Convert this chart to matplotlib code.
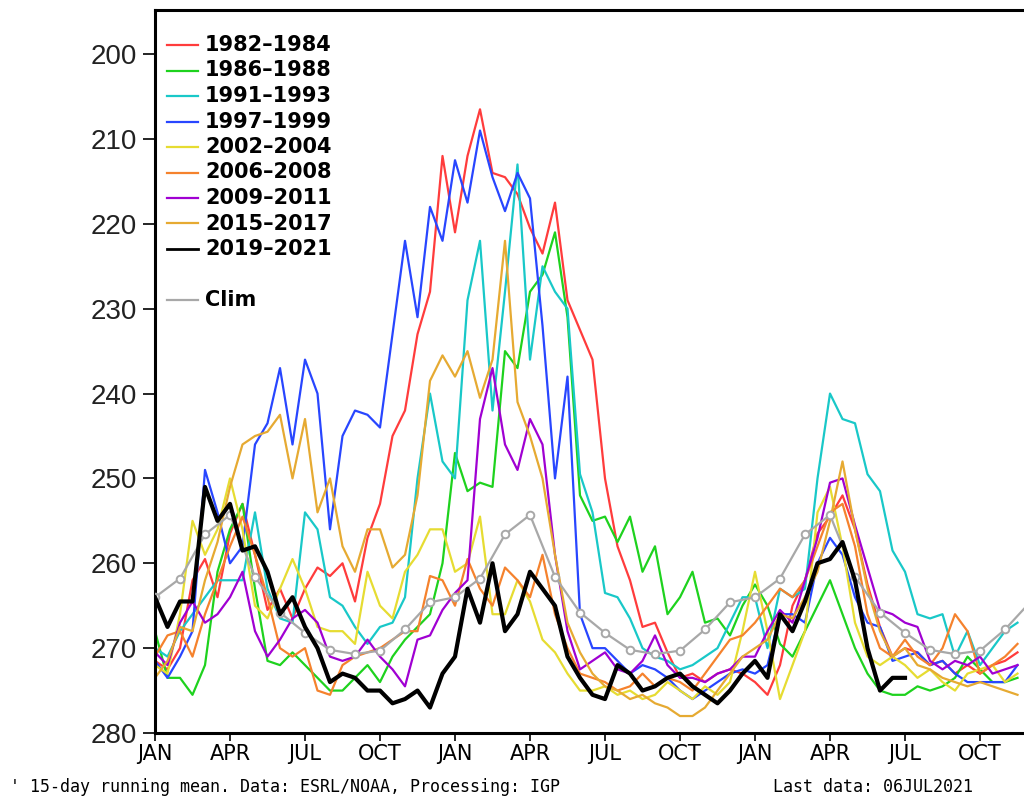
import numpy as np
import matplotlib
matplotlib.use("Agg")
import matplotlib.pyplot as plt

# OLR values, one value every half month from JAN of year 1
red_1982 = [271.5, 272.5, 270, 262, 259.5, 264, 256.5, 253, 259, 265.5, 263, 266.5, 263, 260.5, 261.5, 260,
            264.5, 257, 253, 245, 242, 233, 228, 212, 221, 212, 206.5, 214, 214.5, 216.5, 220.5, 223.5,
            217.5, 229, 232.5, 236, 250, 258, 262, 267.5, 267, 270.5, 273.5, 273, 274, 273, 272.5, 273,
            274, 275.5, 272, 265, 262, 256.5, 254.5, 252, 256, 262.5, 267.5, 271, 270, 270.5, 272, 271.5,
            273, 272, 273, 272, 271.5, 270.5]
green_1986 = [268, 273.5, 273.5, 275.5, 272, 261, 256, 253, 263, 271.5, 272, 270.5, 272, 273.5, 275, 275,
              273.5, 272, 274, 271, 269, 267.5, 266, 260, 247, 251.5, 250.5, 251, 235, 237, 228, 226,
              221, 231, 252, 255, 254.5, 257.5, 254.5, 261, 258, 266, 264, 261, 267, 266.5, 268.5, 265,
              262.5, 265, 269.5, 271, 268, 265, 262, 266, 270, 273, 275, 275.5, 275.5, 274.5, 275, 274.5,
              273.5, 271, 272.5, 274, 274, 273.5]
cyan_1991 = [270, 271, 268, 266, 264, 262, 262, 262, 254, 263, 266.5, 267, 254, 256, 264, 265,
             267.5, 269.5, 267.5, 267, 264, 250, 240, 248, 250, 229, 222, 242, 228, 213, 236, 225,
             228, 230, 249.5, 254, 263.5, 264, 266.5, 270, 271, 271.5, 272.5, 272, 271, 270, 267, 264,
             264, 270, 263, 264, 263, 250, 240, 243, 243.5, 249.5, 251.5, 258.5, 261, 266, 266.5, 266,
             271, 268, 272, 270, 268, 267]
blue_1997 = [271.5, 273.5, 271, 268, 249, 254, 260, 258, 246, 243.5, 237, 246, 236, 240, 256, 245,
             242, 242.5, 244, 233, 222, 231, 218, 222, 212.5, 217.5, 209, 214.5, 218.5, 214, 217, 232,
             250, 238, 266, 270, 270, 271.5, 273, 272, 272.5, 273.5, 275, 276, 275, 274, 273, 272.5,
             273, 272, 266, 266, 267, 260, 257, 259, 264, 267, 267.5, 271.5, 271, 270.5, 272, 271.5,
             273, 274, 274, 274, 274, 272]
yellow_2002 = [272, 273, 266, 255, 259, 256, 250, 256, 265, 266.5, 263, 259.5, 263, 267.5, 268, 268,
               269.5, 261, 265, 266.5, 261, 259, 256, 256, 261, 260, 254.5, 266, 266, 262, 264.5, 269,
               270.5, 273, 275, 275, 274.5, 275.5, 275, 276, 275.5, 274, 275, 276, 274.5, 275.5, 274, 268,
               261, 268, 276, 272, 268, 254, 251, 258, 267, 271, 272, 271, 272, 273.5, 272.5, 274,
               275, 273, 272.5, 272, 274, 273]
orange_2006 = [271, 268.5, 268, 271, 266, 262, 258, 254.5, 259, 264, 270, 271, 270, 275, 275.5, 272,
               271, 270.5, 270, 269, 268, 268, 261.5, 262, 265, 259.5, 263, 265, 260.5, 262, 264, 259,
               266, 270, 273, 273.5, 274, 275, 274.5, 273, 274.5, 273.5, 274, 275, 273, 271, 269, 268.5,
               267, 265, 263, 264, 262, 258, 254, 253, 258, 266, 270, 271, 269, 271, 272, 270,
               266, 268, 273, 272, 271, 269.5]
purple_2009 = [270.5, 272, 267, 264.5, 267, 266, 264, 261, 268, 271, 269, 266.5, 265.5, 267, 271, 271.5,
               271, 269, 271, 272.5, 274.5, 269, 268.5, 265.5, 263.5, 262, 243, 237, 246, 249, 243, 246,
               259, 268, 272.5, 271.5, 270.5, 272.5, 273, 271.5, 268.5, 272, 273.5, 273.5, 274, 273, 272.5, 271,
               271, 268, 265.5, 267, 262, 257, 250.5, 250, 255.5, 260.5, 265.5, 266, 267, 267.5, 271.5, 272.5,
               271.5, 272, 271, 273, 272.5, 272]
gold_2015 = [273.5, 271.5, 267.5, 268, 262, 257.5, 251, 246, 245, 244.5, 242.5, 250, 243, 254, 250, 258,
             261, 256, 256, 260.5, 259, 252, 238.5, 235.5, 238, 235, 240.5, 236, 222, 241, 245, 250,
             259, 267, 270.5, 273, 274.5, 275, 276, 275.5, 276.5, 277, 278, 278, 277, 275, 273, 271,
             270, 269, 266, 266.5, 264, 261, 255, 248, 256, 263, 268, 271, 270, 272, 272.5, 273.5,
             274, 274.5, 274, 274.5, 275, 275.5]
black_2019 = [264, 267.5, 264.5, 264.5, 251, 255, 253, 258.5, 258, 261, 266, 264, 267.5, 270, 274, 273,
              273.5, 275, 275, 276.5, 276, 275, 277, 273, 271, 263, 267, 260, 268, 266, 261, 263,
              265, 271, 273.5, 275.5, 276, 272, 273, 275, 274.5, 273.5, 273, 274.5, 275.5, 276.5, 275, 273,
              271.5, 273.5, 266, 268, 264.5, 260, 259.5, 257.5, 262, 270, 275, 273.5, 273.5]

# climatology, one value per month
clim = [264.0, 261.8, 256.6, 254.3, 261.6, 265.8, 268.2, 270.2, 270.7, 270.3, 267.8, 264.6,
        264.0, 261.8, 256.6, 254.3, 261.6, 265.8, 268.2, 270.2, 270.7, 270.3, 267.8, 264.6,
        264.0, 261.8, 256.6, 254.3, 261.6, 265.8, 268.2, 270.2, 270.7, 270.3, 267.8, 264.6]

labels = ["1982–1984", "1986–1988", "1991–1993", "1997–1999", "2002–2004",
          "2006–2008", "2009–2011", "2015–2017", "2019–2021"]
colors = ["#ff3c3c", "#1ed21e", "#19c8c8", "#2846ff", "#e6dc32",
          "#f5822d", "#a000d2", "#e6aa32", "black"]
series = [red_1982, green_1986, cyan_1991, blue_1997, yellow_2002,
          orange_2006, purple_2009, gold_2015, black_2019]

month_ticks = [0, 3, 6, 9, 12, 15, 18, 21, 24, 27, 30, 33]
month_names = ["JAN", "APR", "JUL", "OCT"] * 3

fig = plt.figure(figsize=(10.24, 7.96), dpi=100)
ax = fig.add_axes([155 / 1024, 63 / 796, 900 / 1024, 723 / 796])

for vals, col in zip(series[:-1], colors[:-1]):
    x = np.arange(len(vals)) * 0.5
    ax.plot(x, vals, color=col, lw=1.6, zorder=2)

ax.plot(np.arange(len(clim)), clim, color="#a8a8a8", lw=1.6, marker="o", ms=5.5,
        mfc="white", mec="#a8a8a8", mew=1.4, zorder=3)

xb = np.arange(len(black_2019)) * 0.5
ax.plot(xb, black_2019, color="black", lw=3.0, zorder=4)

ax.set_xlim(0, 36)
ax.set_ylim(280, 194.8)
ax.set_yticks(np.arange(200, 281, 10))
ax.set_yticklabels([str(v) for v in range(200, 281, 10)], family="Liberation Sans", fontsize=20,
                   color="#222222")
ax.set_xticks(month_ticks)
ax.set_xticklabels(month_names, family=["Liberation Sans Narrow", "DejaVu Sans"], fontsize=15)
ax.tick_params(axis="y", direction="out", length=9, width=1.2, pad=4)
ax.tick_params(axis="x", direction="out", length=6, width=1.2, pad=2)
for sp in ax.spines.values():
    sp.set_linewidth(2.2)

# legend drawn by hand in axes fractions
def fx(px):
    return (px - 155) / 900

def fy(py):
    return (733 - py) / 723

for k, (lab, col) in enumerate(zip(labels, colors)):
    yy = 45 + 25.5 * k
    ax.plot([fx(167), fx(198)], [fy(yy), fy(yy)], color=col, lw=1.6 if k < 8 else 2.0,
            transform=ax.transAxes, zorder=5)
    ax.text(fx(205), fy(yy), lab, transform=ax.transAxes, fontsize=15, fontweight="bold",
            va="center", ha="left", zorder=5)
ax.plot([fx(167), fx(198)], [fy(300), fy(300)], color="#a8a8a8", lw=1.6,
        transform=ax.transAxes, zorder=5)
ax.text(fx(205), fy(300), "Clim", transform=ax.transAxes, fontsize=15, fontweight="bold",
        va="center", ha="left", zorder=5)

fig.text(10 / 1024, 1 - 787 / 796, "' 15-day running mean. Data: ESRL/NOAA, Processing: IGP",
         family="DejaVu Sans Mono", fontsize=12, va="center", ha="left")
fig.text(773 / 1024, 1 - 787 / 796, "Last data: 06JUL2021", family="DejaVu Sans Mono",
         fontsize=12, va="center", ha="left")

fig.savefig("out.png", dpi=100)
